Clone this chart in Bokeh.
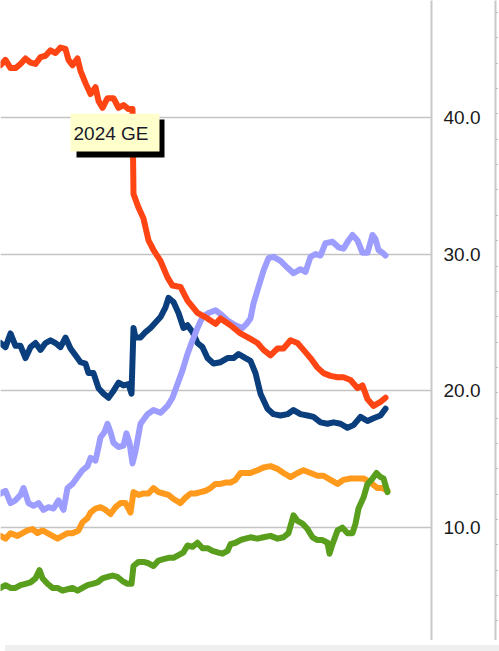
import numpy as np
from bokeh.plotting import figure
from bokeh.models import Range1d, LinearAxis, FixedTicker, Label, Div, NumeralTickFormatter, BoxAnnotation
from bokeh.layouts import column
from bokeh.embed import file_html
from bokeh.resources import INLINE

# time step index (~2 days per step), poll share (%)
labour = [(0,43.8),(5,44.2),(10,43.6),(15,43.6),(20,43.9),(25,44.3),(30,44.0),(35,43.9),(40,44.4),(45,44.5),
          (50,44.9),(55,44.7),(60,45.1),(65,45.0),(68,44.2),(72,43.8),(77,44.3),(80,43.4),(85,42.5),(90,41.7),
          (95,42.2),(98,41.2),(102,40.7),(107,41.4),(113,41.4),(118,40.7),(123,40.9),(128,40.6),(132,40.6),
          (133,34.4),(138,33.4),(143,32.6),(148,31.0),(153,30.3),(160,29.5),(167,28.3),(172,27.7),(180,27.6),
          (187,26.6),(197,25.7),(207,25.3),(215,24.9),(220,25.3),(230,24.8),(240,24.2),(250,23.8),(257,23.5),
          (263,23.0),(270,22.6),(277,23.1),(283,23.1),(290,23.7),(297,23.5),(303,23.0),(310,22.4),(317,21.7),
          (323,21.3),(330,21.1),(337,21.0),(343,21.0),(350,20.8),(357,20.2),(362,20.4),(367,19.4),(373,18.9),
          (380,19.2),(385,19.5)]
conservative = [(0,23.5),(5,23.2),(10,24.2),(15,23.3),(20,23.3),(25,22.4),(30,23.2),(35,23.5),(40,23.0),(45,23.5),
          (50,23.7),(55,23.5),(60,23.2),(65,23.9),(70,23.1),(75,22.6),(80,22.1),(85,22.0),(88,21.3),(93,21.3),
          (98,20.2),(103,19.8),(108,19.5),(113,20.0),(118,20.6),(123,20.4),(128,20.5),(131,19.8),(133,24.6),
          (135,23.9),(140,23.9),(145,24.3),(150,24.6),(155,25.0),(160,25.4),(165,26.1),(168,26.8),(173,26.5),
          (178,25.7),(183,24.6),(187,24.8),(192,24.3),(197,23.5),(202,23.2),(207,22.4),(213,22.0),(220,22.1),
          (227,22.4),(233,22.4),(238,22.7),(245,22.4),(250,22.2),(255,21.3),(260,19.8),(267,18.7),(273,18.3),
          (280,18.2),(287,18.3),(293,18.6),(300,18.3),(307,18.2),(313,18.1),(320,17.7),(327,17.6),(333,17.7),
          (340,17.6),(347,17.3),(353,17.5),(360,18.1),(367,17.8),(373,18.0),(380,18.2),(385,18.7)]
reform = [(0,12.5),(5,12.7),(10,11.8),(15,12.0),(20,12.4),(23,12.9),(28,11.8),(33,11.6),(38,11.8),(43,11.3),
          (48,11.5),(53,11.4),(58,12.0),(63,11.3),(67,12.9),(72,13.2),(77,13.7),(82,14.2),(87,14.5),(90,15.1),
          (95,14.9),(98,15.9),(100,16.6),(104,17.0),(107,17.6),(110,17.0),(113,16.2),(118,15.9),(123,16.0),
          (126,16.9),(129,16.2),(132,14.7),(135,15.6),(137,16.4),(140,17.6),(147,18.3),(153,18.6),(160,18.4),
          (167,18.9),(172,19.5),(177,20.5),(182,21.5),(187,22.7),(192,23.7),(197,24.6),(202,25.4),(208,25.7),
          (215,25.9),(222,25.5),(228,25.1),(235,24.8),(242,24.6),(246,24.9),(250,25.3),(253,26.4),(258,27.6),
          (263,28.8),(268,29.7),(273,29.8),(280,29.5),(287,29.0),(293,28.6),(300,28.9),(305,28.7),(310,29.8),
          (315,30.0),(320,29.9),(325,30.8),(332,30.9),(338,30.5),(343,30.4),(348,31.0),(352,31.4),(357,31.0),
          (362,30.1),(367,30.1),(372,31.4),(375,31.1),(378,30.3),(382,30.1),(385,29.9)]
libdem = [(0,9.4),(5,9.2),(10,9.6),(17,9.4),(22,9.6),(27,9.8),(32,9.9),(37,9.6),(42,9.8),(47,9.6),(52,9.4),
          (57,9.2),(62,9.4),(67,9.6),(72,9.6),(78,9.8),(82,10.4),(87,10.7),(90,11.1),(95,11.4),(100,11.5),
          (105,11.3),(110,11.0),(115,11.5),(120,11.8),(125,11.8),(130,11.1),(133,12.6),(138,12.4),(143,12.5),
          (148,12.5),(153,12.9),(158,12.6),(163,12.5),(168,12.4),(173,12.1),(180,11.8),(185,12.2),(190,12.5),
          (195,12.5),(200,12.6),(205,12.7),(210,12.9),(215,13.2),(220,13.2),(225,13.3),(230,13.3),(235,13.5),
          (240,14.0),(245,14.0),(250,14.0),(257,14.2),(263,14.4),(270,14.5),(277,14.3),(283,14.0),(290,13.7),
          (297,14.0),(303,14.2),(310,14.0),(317,13.8),(323,13.8),(330,13.5),(337,13.2),(343,13.5),(350,13.6),
          (357,13.6),(363,13.6),(370,13.3),(377,12.9),(382,12.9),(387,12.7)]
green = [(0,5.6),(5,5.8),(10,5.6),(15,5.6),(20,5.8),(25,5.9),(30,6.0),(35,6.3),(39,6.9),(42,6.3),(47,5.9),
          (52,5.6),(57,5.6),(62,5.4),(67,5.5),(72,5.6),(77,5.4),(82,5.6),(87,5.8),(92,5.9),(97,6.0),(102,6.3),
          (107,6.4),(112,6.5),(117,6.4),(122,6.1),(127,5.9),(131,5.9),(133,7.2),(138,7.5),(143,7.5),(148,7.4),
          (153,7.2),(158,7.6),(163,7.7),(168,7.8),(173,7.8),(178,8.0),(183,8.2),(187,8.7),(192,8.6),(197,8.9),
          (202,8.5),(207,8.5),(212,8.3),(217,8.2),(222,8.1),(227,8.3),(230,8.8),(235,8.9),(240,9.1),(245,9.2),
          (250,9.3),(257,9.2),(263,9.3),(270,9.4),(277,9.2),(283,9.3),(288,9.6),(293,10.9),(297,10.5),(302,10.3),
          (307,9.9),(312,9.3),(317,9.1),(322,9.1),(327,8.9),(329,8.1),(332,8.8),(337,9.8),(342,10.0),(347,9.6),
          (352,9.6),(355,10.3),(358,11.4),(363,12.2),(367,13.2),(372,13.6),(376,14.0),(380,13.7),(383,13.6),
          (387,12.6)]
ge_step = 132
ge_text = "2024 GE"
y_ticks = [10, 20, 30, 40]

FONT = "Liberation Sans"

p = figure(frame_width=431, frame_height=640, x_range=Range1d(0, 431), y_range=Range1d(1.754, 48.54),
           y_axis_location="right", x_axis_location=None, toolbar_location=None,
           output_backend="svg", min_border=0, outline_line_color=None, background_fill_color="white")

ax = p.yaxis[0]
ax.ticker = FixedTicker(ticks=y_ticks)
ax.formatter = NumeralTickFormatter(format="0.0")
ax.major_tick_out = 0
ax.major_tick_in = 0
ax.minor_tick_out = 0
ax.minor_tick_in = 0
ax.axis_line_color = "#c8c8c8"
ax.axis_line_width = 2
ax.major_label_standoff = 12
ax.major_label_text_font = FONT
ax.major_label_text_font_size = "19px"
ax.major_label_text_color = "#1a1a1a"
ax.axis_label = " "
ax.axis_label_standoff = 0
ax.axis_label_text_font_size = "8px"

p.ygrid.ticker = FixedTicker(ticks=y_ticks)
p.ygrid.grid_line_color = "#c4c4c4"
p.ygrid.grid_line_width = 1.5
p.xgrid.visible = False

p.extra_y_ranges = {"ruler": Range1d(1.754, 48.54)}
ruler_ticks = list(47.66 - 1.853 * np.arange(0, 26))
ax2 = LinearAxis(y_range_name="ruler", ticker=FixedTicker(ticks=ruler_ticks), major_tick_out=3, major_tick_in=0,
                 minor_tick_out=0, minor_tick_in=0, axis_line_color="#c8c8c8", axis_line_width=2,
                 major_tick_line_color="#bdbdbd", major_label_text_font_size="0px", major_label_text_alpha=0,
                 major_label_standoff=0)
p.add_layout(ax2, "right")

series = [(conservative, "#0a3e7c"), (reform, "#9d9dff"), (labour, "#ff4513"), (libdem, "#ff9a1c"), (green, "#5a9e1e")]
for data, color in series:
    t = [d[0] for d in data]
    v = [d[1] for d in data]
    p.line(t, v, line_color=color, line_width=6, line_join="round", line_cap="round")

# "2024 GE" callout box with a drop shadow
shadow = BoxAnnotation(left=ge_step - 56, right=ge_step + 32, top=39.84, bottom=37.06,
                       fill_color="black", fill_alpha=1, line_color=None)
box = BoxAnnotation(left=ge_step - 62, right=ge_step + 27, top=40.27, bottom=37.5,
                    fill_color="#ffffcc", fill_alpha=1, line_color=None)
lbl = Label(x=ge_step, y=38.83, x_offset=-59, text=ge_text, text_font=FONT, text_font_size="19px",
            text_color="#1a1a2a", text_baseline="alphabetic")
p.add_layout(shadow)
p.add_layout(box)
p.add_layout(lbl)

strip = Div(text="", width=499, height=11, styles={"background-color": "#efefef"})
layout = column(p, strip, spacing=0)

open("out.html", "w").write(file_html(layout, INLINE))
